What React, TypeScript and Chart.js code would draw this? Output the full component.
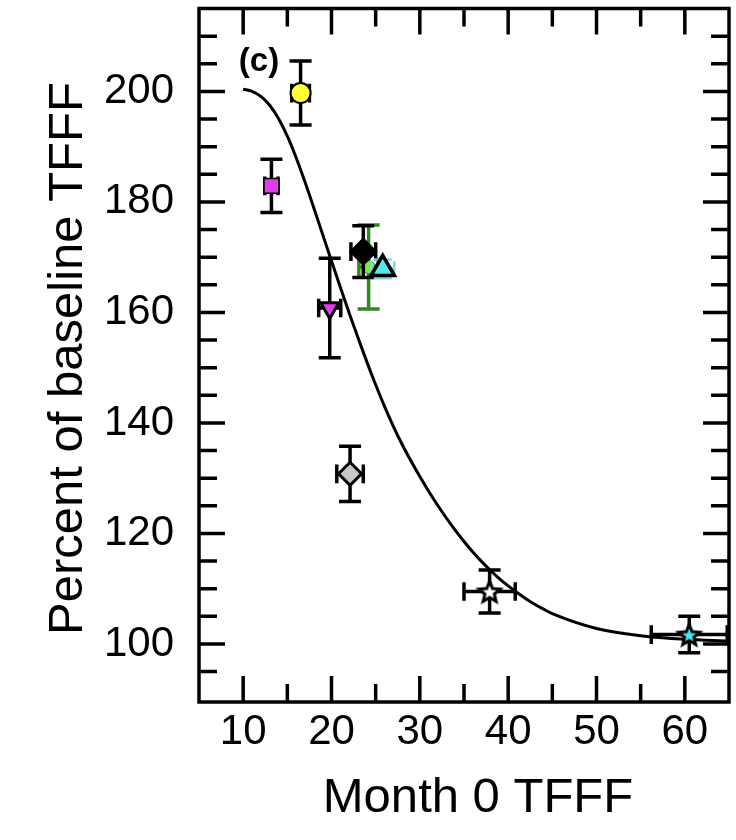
import React, { useEffect, useRef } from "react";
import { Chart, registerables } from "chart.js";

Chart.register(...registerables);

// ---------- data ----------
const X_TICKS = [10, 20, 30, 40, 50, 60];
const X_MINOR_TICKS = [15, 25, 35, 45, 55];
const Y_TICKS = [100, 120, 140, 160, 180, 200];
const Y_MINOR_TICKS = [95, 105, 110, 115, 125, 130, 135, 145, 150, 155, 165, 170, 175, 185, 190, 195, 205, 210];

const CURVE_X = [10, 11, 12, 13, 14, 15, 16, 17, 18, 19, 20, 21, 22, 23, 24, 25, 26, 27, 28, 29, 30, 31, 32, 33, 34, 35, 36, 37, 38, 39, 40, 41, 42, 43, 44, 45, 50, 55, 60, 65];
const CURVE_Y = [200.4, 200.0, 199.1, 197.5, 195.1, 191.9, 188.0, 183.6, 178.9, 174.1, 169.3, 164.55, 159.9, 155.4, 151.05, 146.9, 143.0, 139.4, 136.1, 133.1, 130.3, 127.65, 125.15, 122.8, 120.6, 118.55, 116.65, 114.9, 113.3, 111.84, 110.51, 109.3, 108.2, 107.2, 106.3, 105.49, 102.8, 101.5, 100.85, 100.55];

// markers: yellow circle, magenta square, magenta down-triangle, black diamond,
// green circle, cyan triangle, gray diamond, white star, cyan star
const POINT_X = [16.5, 13.2, 19.8, 23.6, 24.2, 25.8, 22.1, 37.9, 60.5];
const POINT_Y = [199.7, 182.9, 160.8, 171.0, 168.2, 167.9, 130.8, 109.5, 101.7];
const POINT_XERR = [1.0, 0.75, 1.25, 1.4, 1.1, 1.3, 1.5, 2.9, 4.3];
const POINT_YERR = [5.8, 4.8, 9.0, 4.7, 7.6, 1.7, 5.0, 3.9, 3.3];

const X_TITLE = "Month 0 TFFF";
const Y_TITLE = "Percent of baseline TFFF";
const PANEL_LABEL = "(c)";

// ---------- styles ----------
const FONT = '"Liberation Sans", Arial, Helvetica, sans-serif';
type Mk = { style: string; r: number; fill: string; stroke: string; bw: number; rot?: number; eb: string; ebw: number; cap: number };
const MARKERS: Mk[] = [
  { style: "circle", r: 10, fill: "#ffff3c", stroke: "#000", bw: 2, eb: "#000", ebw: 3.5, cap: 11 },
  { style: "rect", r: 10.5, fill: "#dd40e8", stroke: "#000", bw: 1.5, eb: "#000", ebw: 3.5, cap: 11 },
  { style: "triangle", r: 10.5, fill: "#e040e8", stroke: "#000", bw: 3, rot: 180, eb: "#000", ebw: 3.5, cap: 11 },
  { style: "rectRot", r: 13, fill: "#000", stroke: "#000", bw: 2, eb: "#000", ebw: 3.5, cap: 11 },
  { style: "circle", r: 6.5, fill: "#77ee3a", stroke: "#2e8b20", bw: 1, eb: "#2e8b20", ebw: 3.5, cap: 11 },
  { style: "triangle", r: 13.5, fill: "#55e6ee", stroke: "#000", bw: 3.5, eb: "#80d8dc", ebw: 2.5, cap: 9 },
  { style: "rectRot", r: 11.5, fill: "#c8c8c8", stroke: "#000", bw: 3, eb: "#000", ebw: 3.5, cap: 11 },
  { style: "star", r: 11, fill: "#ffffff", stroke: "#000", bw: 3, eb: "#000", ebw: 3.5, cap: 11 },
  { style: "star", r: 11, fill: "#40e8f0", stroke: "#000", bw: 3, eb: "#000", ebw: 3.5, cap: 11 },
];
// drawing order, topmost first
const Z_ORDER = [5, 3, 4, 0, 1, 2, 6, 7, 8];

function makeStar(R: number, fill: string, stroke: string, lw: number) {
  const size = Math.ceil(2 * R + lw * 2 + 4);
  const c = document.createElement("canvas");
  c.width = size;
  c.height = size;
  const g = c.getContext("2d")!;
  const cx = size / 2, cy = size / 2 + 1;
  const inner = R * 0.45;
  g.beginPath();
  for (let k = 0; k < 10; k++) {
    const rad = k % 2 === 0 ? R : inner;
    const ang = -Math.PI / 2 + (k * Math.PI) / 5;
    const px = cx + rad * Math.cos(ang), py = cy + rad * Math.sin(ang);
    if (k === 0) g.moveTo(px, py); else g.lineTo(px, py);
  }
  g.closePath();
  g.fillStyle = fill;
  g.fill();
  g.lineWidth = lw;
  g.lineJoin = "miter";
  g.strokeStyle = stroke;
  g.stroke();
  return c;
}

const customPlugin = {
  id: "custom",
  beforeDatasetDraw(chart: any, args: any) {
    const ds = chart.data.datasets[args.index];
    if (ds.pIndex === undefined) return;
    const i = ds.pIndex;
    const m = MARKERS[i];
    const { ctx, chartArea: a } = chart;
    const xs = chart.scales.x, ys = chart.scales.y;
    const px = xs.getPixelForValue(POINT_X[i]);
    const py = ys.getPixelForValue(POINT_Y[i]);
    const x0 = xs.getPixelForValue(POINT_X[i] - POINT_XERR[i]);
    const x1 = xs.getPixelForValue(POINT_X[i] + POINT_XERR[i]);
    const y0 = ys.getPixelForValue(POINT_Y[i] - POINT_YERR[i]);
    const y1 = ys.getPixelForValue(POINT_Y[i] + POINT_YERR[i]);
    ctx.save();
    ctx.beginPath();
    ctx.rect(a.left, a.top, a.right - a.left, a.bottom - a.top);
    ctx.clip();
    ctx.strokeStyle = m.eb;
    ctx.lineWidth = m.ebw;
    ctx.lineCap = "butt";
    ctx.beginPath();
    ctx.moveTo(px, y0); ctx.lineTo(px, y1);
    ctx.moveTo(px - m.cap, y0); ctx.lineTo(px + m.cap, y0);
    ctx.moveTo(px - m.cap, y1); ctx.lineTo(px + m.cap, y1);
    ctx.moveTo(x0, py); ctx.lineTo(x1, py);
    ctx.moveTo(x0, py - m.cap * 0.85); ctx.lineTo(x0, py + m.cap * 0.85);
    ctx.moveTo(x1, py - m.cap * 0.85); ctx.lineTo(x1, py + m.cap * 0.85);
    ctx.stroke();
    ctx.restore();
  },
  afterDraw(chart: any) {
    const { ctx, chartArea: a } = chart;
    const xs = chart.scales.x, ys = chart.scales.y;
    ctx.save();
    ctx.strokeStyle = "#000";
    ctx.lineWidth = 3.5;
    ctx.lineCap = "butt";
    ctx.beginPath();
    const seg = (x0: number, y0: number, x1: number, y1: number) => { ctx.moveTo(x0, y0); ctx.lineTo(x1, y1); };
    X_TICKS.forEach((v) => { const p = xs.getPixelForValue(v); seg(p, a.bottom, p, a.bottom - 26); seg(p, a.top, p, a.top + 26); });
    X_MINOR_TICKS.forEach((v) => { const p = xs.getPixelForValue(v); seg(p, a.bottom, p, a.bottom - 18); seg(p, a.top, p, a.top + 18); });
    Y_TICKS.forEach((v) => { const p = ys.getPixelForValue(v); seg(a.left, p, a.left + 26, p); seg(a.right, p, a.right - 26, p); });
    Y_MINOR_TICKS.forEach((v) => { const p = ys.getPixelForValue(v); seg(a.left, p, a.left + 18, p); seg(a.right, p, a.right - 18, p); });
    ctx.stroke();
    ctx.strokeRect(a.left, a.top, a.right - a.left, a.bottom - a.top);

    ctx.fillStyle = "#000";
    ctx.font = `bold 33px ${FONT}`;
    ctx.textAlign = "center";
    ctx.textBaseline = "alphabetic";
    ctx.fillText(PANEL_LABEL, a.left + 60, a.top + 62);

    ctx.font = `49px ${FONT}`;
    ctx.fillText(X_TITLE, a.left + 279, a.bottom + 110);

    ctx.translate(82, a.top + 350);
    ctx.rotate(-Math.PI / 2);
    ctx.fillText(Y_TITLE, 0, 0);
    ctx.restore();
  },
};

export default function App() {
  const ref = useRef<HTMLCanvasElement>(null);
  useEffect(() => {
    const canvas = ref.current!;
    const datasets: any[] = [];
    Z_ORDER.forEach((i) => {
      const m = MARKERS[i];
      const style = m.style === "star" ? makeStar(m.r, m.fill, m.stroke, m.bw) : m.style;
      datasets.push({
        pIndex: i,
        data: [{ x: POINT_X[i], y: POINT_Y[i] }],
        pointStyle: style,
        pointRadius: m.r,
        pointRotation: m.rot || 0,
        backgroundColor: m.fill,
        borderColor: m.stroke,
        borderWidth: m.bw,
        pointBorderWidth: m.bw,
        clip: false,
      });
    });
    datasets.push({
      data: CURVE_X.map((x, k) => ({ x, y: CURVE_Y[k] })),
      showLine: true,
      pointRadius: 0,
      borderColor: "#000",
      borderWidth: 3,
      cubicInterpolationMode: "monotone",
      fill: false,
    });
    const chart = new Chart(canvas, {
      type: "scatter",
      data: { datasets },
      options: {
        animation: false,
        responsive: false,
        devicePixelRatio: 1,
        layout: { autoPadding: false, padding: { top: 8.5, right: 7, bottom: 0, left: 0 } },
        plugins: { legend: { display: false }, tooltip: { enabled: false } },
        scales: {
          x: {
            type: "linear",
            min: 5,
            max: 65,
            afterBuildTicks: (s: any) => { s.ticks = X_TICKS.map((v) => ({ value: v })); },
            afterFit: (s: any) => { s.height = 138; s.paddingLeft = 0; s.paddingRight = 0; },
            grid: { display: false, drawTicks: false },
            border: { display: false },
            ticks: { color: "#000", padding: 5, maxRotation: 0, autoSkip: false, font: { family: FONT, size: 42 } },
          },
          y: {
            type: "linear",
            min: 89.5,
            max: 215,
            afterBuildTicks: (s: any) => { s.ticks = Y_TICKS.map((v) => ({ value: v })); },
            afterFit: (s: any) => { s.width = 199; s.paddingTop = 0; s.paddingBottom = 0; },
            grid: { display: false, drawTicks: false },
            border: { display: false },
            ticks: { color: "#000", padding: 25, autoSkip: false, font: { family: FONT, size: 42 } },
          },
        },
      },
      plugins: [customPlugin],
    } as any);
    return () => chart.destroy();
  }, []);
  return (
    <div style={{ position: "absolute", left: 0, top: 0, width: 736, height: 840 }}>
      <canvas ref={ref} width={736} height={840} style={{ display: "block", width: 736, height: 840 }} />
    </div>
  );
}
